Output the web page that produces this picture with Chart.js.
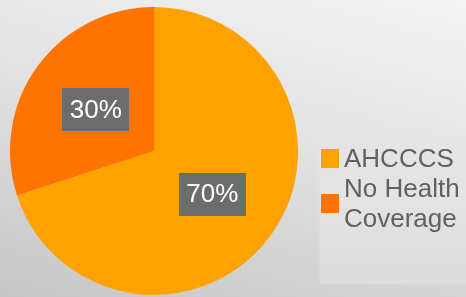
<!DOCTYPE html>
<html>
<head>
<meta charset="utf-8">
<script src="https://cdn.jsdelivr.net/npm/chart.js@4/dist/chart.umd.min.js"></script>
<style>
  html, body { margin: 0; padding: 0; }
  body { width: 466px; height: 297px; overflow: hidden; position: relative;
         background: linear-gradient(195deg, #f3f3f3 0%, #e2e2e2 45%, #c6c6c6 100%); }
  #legendBox { position: absolute; left: 320px; top: 128px; width: 146px; height: 156px;
               background: linear-gradient(180deg, rgba(236,236,236,0) 0%, #e4e4e4 40%, #dcdcdc 100%);
               box-shadow: 0 0 1px rgba(255,255,255,0.6); }
  #wrap { position: absolute; left: 0; top: 0; width: 466px; height: 297px; }
</style>
</head>
<body>
<div id="legendBox"></div>
<div id="wrap"><canvas id="c" width="466" height="297"></canvas></div>
<script>
const categories = ["AHCCCS", ["No Health", "Coverage"]];
const values = [70, 30];
const valueLabels = ["70%", "30%"];
const colors = ["#FFA200", "#FF7300"];

const labelBoxes = {
  id: 'labelBoxes',
  afterDatasetsDraw(chart) {
    const ctx = chart.ctx;
    const meta = chart.getDatasetMeta(0);
    ctx.save();
    ctx.font = '26px "Liberation Sans", Arial, sans-serif';
    meta.data.forEach((arc, i) => {
      const p = arc.tooltipPosition();
      const txt = valueLabels[i];
      const w = 67;
      const h = 43;
      ctx.fillStyle = '#6c6c6c';
      ctx.fillRect(Math.round(p.x - w / 2), Math.round(p.y - h / 2 + 1), w, h);
      ctx.fillStyle = '#ffffff';
      ctx.textAlign = 'center';
      ctx.textBaseline = 'middle';
      ctx.fillText(txt, p.x, p.y + 2);
    });
    ctx.restore();
  }
};

const customLegend = {
  id: 'customLegend',
  afterDraw(chart) {
    const ctx = chart.ctx;
    ctx.save();
    ctx.font = '26px "Liberation Sans", Arial, sans-serif';
    ctx.textAlign = 'left';
    ctx.textBaseline = 'alphabetic';
    const x0 = 321, textX = 344, lineH = 30;
    let baseline = 167;
    categories.forEach((cat, i) => {
      const lines = Array.isArray(cat) ? cat : [cat];
      const firstBase = baseline;
      const lastBase = baseline + (lines.length - 1) * lineH;
      const mid = (firstBase + lastBase) / 2 - 9;
      ctx.fillStyle = colors[i];
      ctx.fillRect(x0, Math.round(mid - 9.5), 18, 19);
      ctx.fillStyle = '#616161';
      lines.forEach((ln, j) => ctx.fillText(ln, textX, firstBase + j * lineH));
      baseline = lastBase + lineH;
    });
    ctx.restore();
  }
};

new Chart(document.getElementById('c'), {
  type: 'pie',
  data: {
    labels: categories,
    datasets: [{
      data: values,
      backgroundColor: colors,
      borderWidth: 0
    }]
  },
  options: {
    responsive: false,
    animation: false,
    layout: { padding: { left: 10, right: 168, top: 7, bottom: 2 } },
    plugins: {
      legend: { display: false },
      tooltip: { enabled: false }
    }
  },
  plugins: [labelBoxes, customLegend]
});
</script>
</body>
</html>
